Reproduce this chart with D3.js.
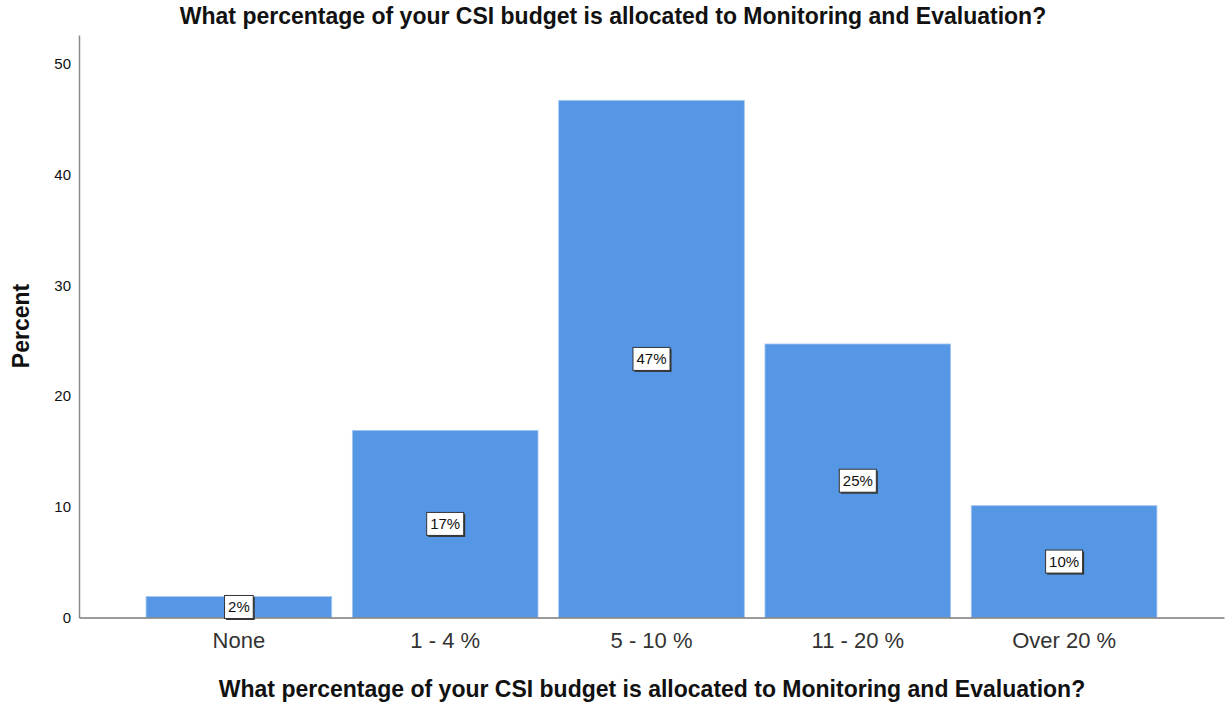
<!DOCTYPE html>
<html>
<head>
<meta charset="utf-8">
<script src="https://cdn.jsdelivr.net/npm/d3@7"></script>
<style>
  html, body { margin: 0; padding: 0; background: #fff; }
  svg { display: block; font-family: Arial, "Liberation Sans", sans-serif; }
</style>
</head>
<body>
<svg id="chart" width="1230" height="704"></svg>
<script>
// Survey responses (percent of respondents)
const categories = ["None", "1 - 4 %", "5 - 10 %", "11 - 20 %", "Over 20 %"];
const percents = [1.9, 16.9, 46.7, 24.7, 10.1];
const yTicks = [0, 10, 20, 30, 40, 50];
const titleText = "What percentage of your CSI budget is allocated to Monitoring and Evaluation?";
const yTitle = "Percent";

const data = categories.map((c, i) => ({ category: c, value: percents[i] }));

const svg = d3.select("#chart");
const plot = { left: 79, right: 1224, top: 35, bottom: 617.5 };

const x = d3.scaleBand()
  .domain(categories)
  .range([plot.left, plot.right])
  .paddingInner(0.1)
  .paddingOuter(0.325);

const y = d3.scaleLinear()
  .domain([0, 52.6])
  .range([plot.bottom, plot.top]);

// Bars
svg.append("g").selectAll("rect")
  .data(data)
  .join("rect")
  .attr("x", d => x(d.category))
  .attr("y", d => y(d.value))
  .attr("width", x.bandwidth())
  .attr("height", d => y(0) - y(d.value))
  .attr("fill", "#5597e4")
  .attr("stroke", "#a9c9f2")
  .attr("stroke-width", 0.8);

// Y axis
const yAxis = svg.append("g")
  .attr("transform", `translate(${plot.left},0)`)
  .call(d3.axisLeft(y).tickValues(yTicks).tickSize(0).tickPadding(8));
yAxis.select(".domain").attr("stroke", "#8a8a8a").attr("stroke-width", 1.5);
yAxis.selectAll("text").attr("font-size", 15).attr("fill", "#111").attr("font-family", "Arial, 'Liberation Sans', sans-serif");

// X axis
const xAxis = svg.append("g")
  .attr("transform", `translate(0,${plot.bottom})`)
  .call(d3.axisBottom(x).tickSize(0).tickPadding(15));
xAxis.select(".domain").attr("stroke", "#7a7a7a").attr("stroke-width", 1.5);
xAxis.selectAll("text").attr("font-size", 22).attr("fill", "#333").attr("font-family", "Arial, 'Liberation Sans', sans-serif");

// Value labels in boxes at bar mid-height
const labels = svg.append("g").selectAll("g")
  .data(data)
  .join("g")
  .attr("transform", d => `translate(${x(d.category) + x.bandwidth() / 2},${y(d.value / 2)})`);

labels.each(function(d) {
  const g = d3.select(this);
  const t = g.append("text")
    .attr("text-anchor", "middle")
    .attr("dy", "0.36em")
    .attr("font-size", 15)
    .attr("fill", "#111")
    .text(Math.round(d.value) + "%");
  const w = t.node().getComputedTextLength() + 7;
  const h = 23;
  g.insert("rect", "text")
    .attr("x", -w / 2 + 1.5)
    .attr("y", -h / 2 + 1.5)
    .attr("width", w)
    .attr("height", h)
    .attr("fill", "#333");
  g.insert("rect", "text")
    .attr("x", -w / 2)
    .attr("y", -h / 2)
    .attr("width", w)
    .attr("height", h)
    .attr("fill", "#fff")
    .attr("stroke", "#333")
    .attr("stroke-width", 1);
});

// Titles
svg.append("text")
  .attr("x", 613).attr("y", 24)
  .attr("text-anchor", "middle")
  .attr("font-size", 23).attr("font-weight", "bold").attr("fill", "#111")
  .text(titleText);

svg.append("text")
  .attr("x", 652).attr("y", 697)
  .attr("text-anchor", "middle")
  .attr("font-size", 23).attr("font-weight", "bold").attr("fill", "#111")
  .text(titleText);

svg.append("text")
  .attr("transform", "translate(29,326) rotate(-90)")
  .attr("text-anchor", "middle")
  .attr("font-size", 23).attr("font-weight", "bold").attr("fill", "#111")
  .text(yTitle);
</script>
</body>
</html>
